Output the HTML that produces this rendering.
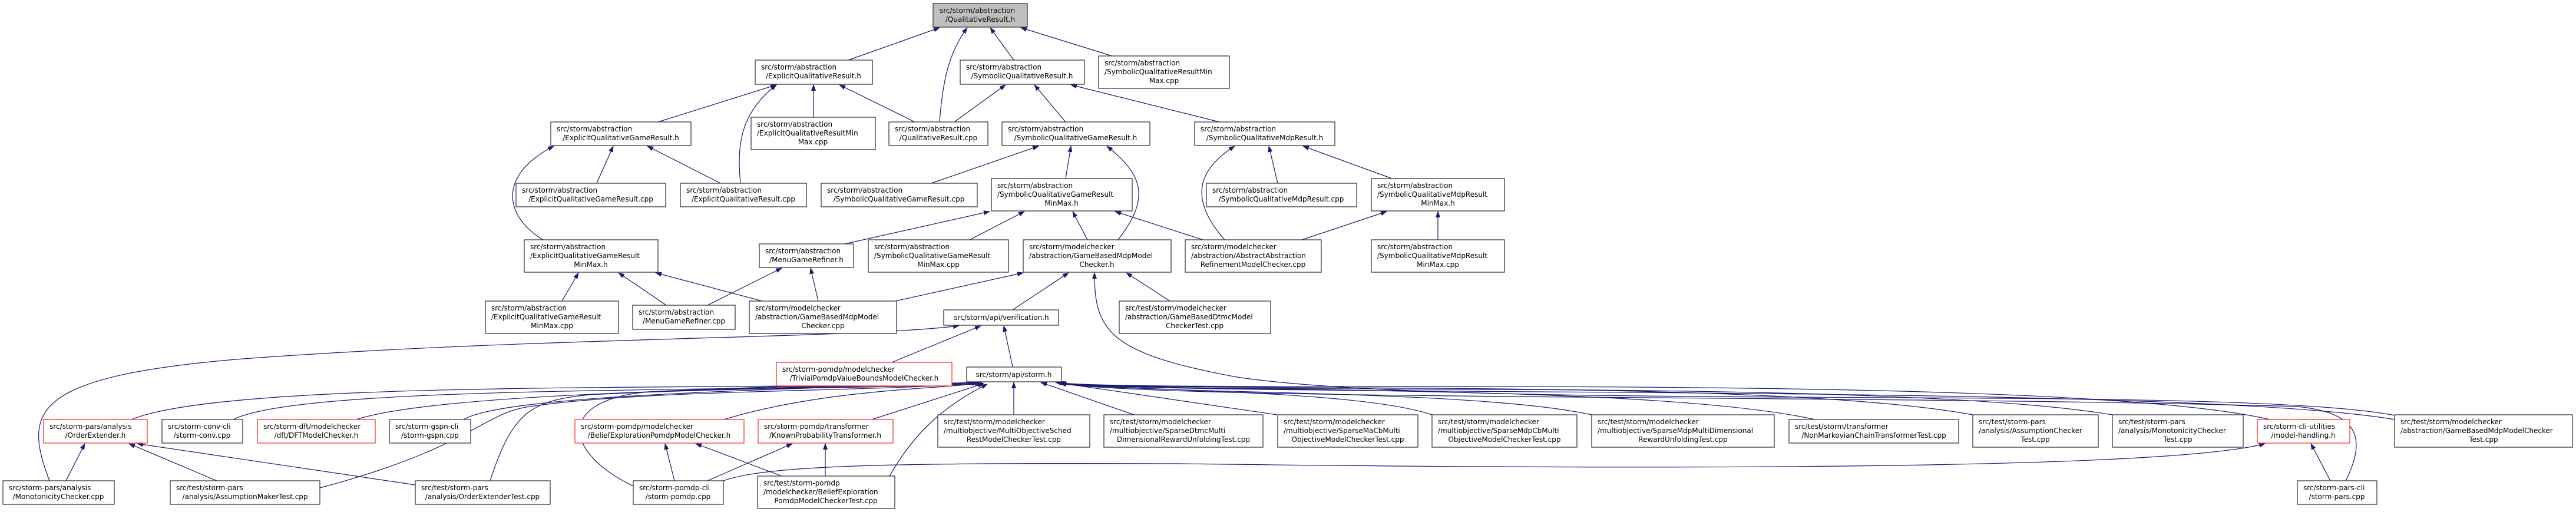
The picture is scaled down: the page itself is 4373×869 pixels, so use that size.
<!DOCTYPE html>
<html><head><meta charset="utf-8"><style>
html,body{margin:0;padding:0;background:#fff;}
svg{display:block;}
text{font-family:"DejaVu Sans","Liberation Sans",sans-serif;font-size:12px;fill:#000;}
.e{fill:none;stroke:#191970;stroke-width:1.2;}
.b{fill:#fff;stroke:#3a3a3a;stroke-width:1.3;}
.r{fill:#fff;stroke:#ff3030;stroke-width:1.3;}
.g{fill:#bfbfbf;stroke:#3a3a3a;stroke-width:1.3;}
</style></head><body>
<svg width="4373" height="869" viewBox="0 0 4373 869" xmlns="http://www.w3.org/2000/svg">
<defs><marker id="a" markerWidth="11" markerHeight="8" refX="10" refY="4" orient="auto" markerUnits="userSpaceOnUse"><path d="M0,0 L11,4 L0,8 z" fill="#191970"/></marker></defs>
<g class="edges">
<!-- into QualitativeResult.h -->
<path class="e" marker-end="url(#a)" d="M1440 102 L1595 47"/>
<path class="e" marker-end="url(#a)" d="M1595 207 C1600 140 1610 90 1642 47"/>
<path class="e" marker-end="url(#a)" d="M1721 102 L1681 47"/>
<path class="e" marker-end="url(#a)" d="M1888 95 L1733 47"/>
<!-- into ExplicitQualitativeResult.h -->
<path class="e" marker-end="url(#a)" d="M1117 207 L1318 144"/>
<path class="e" marker-end="url(#a)" d="M1257 311 C1250 240 1260 190 1318 144"/>
<path class="e" marker-end="url(#a)" d="M1381 199 L1381 144"/>
<path class="e" marker-end="url(#a)" d="M1553 207 L1425 144"/>
<!-- into SymbolicQualitativeResult.h -->
<path class="e" marker-end="url(#a)" d="M1620 207 L1707 144"/>
<path class="e" marker-end="url(#a)" d="M1809 207 L1756 144"/>
<path class="e" marker-end="url(#a)" d="M2070 207 L1818 144"/>
<!-- into ExplicitQualitativeGameResult.h -->
<path class="e" marker-end="url(#a)" d="M922 407 C860 370 840 300 940 248"/>
<path class="e" marker-end="url(#a)" d="M1013 311 L1041 248"/>
<path class="e" marker-end="url(#a)" d="M1223 311 L1099 248"/>
<!-- into SymbolicQualitativeGameResult.h -->
<path class="e" marker-end="url(#a)" d="M1581 311 L1763 248"/>
<path class="e" marker-end="url(#a)" d="M1809 303 L1818 248"/>
<path class="e" marker-end="url(#a)" d="M1898 407 C1950 340 1945 300 1879 248"/>
<!-- into SymbolicQualitativeMdpResult.h -->
<path class="e" marker-end="url(#a)" d="M2079 407 C2020 340 2030 290 2096 248"/>
<path class="e" marker-end="url(#a)" d="M2169 311 L2154 248"/>
<path class="e" marker-end="url(#a)" d="M2363 303 L2212 248"/>
<!-- into SymbolicQualitativeGameResultMinMax.h -->
<path class="e" marker-end="url(#a)" d="M1434 414 L1680 359"/>
<path class="e" marker-end="url(#a)" d="M1646 407 L1739 359"/>
<path class="e" marker-end="url(#a)" d="M1846 407 L1821 359"/>
<path class="e" marker-end="url(#a)" d="M2042 407 L1893 359"/>
<!-- into SymbolicQualitativeMdpResultMinMax.h -->
<path class="e" marker-end="url(#a)" d="M2210 407 L2354 359"/>
<path class="e" marker-end="url(#a)" d="M2441 407 L2441 359"/>
<!-- into ExplicitQualitativeGameResultMinMax.h -->
<path class="e" marker-end="url(#a)" d="M954 511 L982 463"/>
<path class="e" marker-end="url(#a)" d="M1131 518 L1050 463"/>
<path class="e" marker-end="url(#a)" d="M1294 511 L1113 463"/>
<!-- into MenuGameRefiner.h -->
<path class="e" marker-end="url(#a)" d="M1201 518 L1327 455"/>
<path class="e" marker-end="url(#a)" d="M1389 511 L1376 455"/>
<!-- into GameBasedMdpModelChecker.h -->
<path class="e" marker-end="url(#a)" d="M1520 511 L1737 463"/>
<path class="e" marker-end="url(#a)" d="M1719 526 L1814 463"/>
<path class="e" marker-end="url(#a)" d="M1986 511 L1912 463"/>
<path class="e" marker-end="url(#a)" d="M4070 706 C3800 650 2500 700 2100 640 C1880 600 1858 560 1858 463"/>
<!-- into verification.h -->
<path class="e" marker-end="url(#a)" d="M84 816 C40 700 50 640 400 610 C900 572 1450 575 1628 553"/>
<path class="e" marker-end="url(#a)" d="M1514 615 L1665 553"/>
<path class="e" marker-end="url(#a)" d="M1719 622 L1704 553"/>
<!-- into storm.h -->
<path class="e" marker-end="url(#a)" d="M223 712 C400 640 1300 665 1655 649"/>
<path class="e" marker-end="url(#a)" d="M396 712 C520 650 1300 668 1657 649"/>
<path class="e" marker-end="url(#a)" d="M605 712 C750 665 1300 660 1659 649"/>
<path class="e" marker-end="url(#a)" d="M787 712 C860 670 1300 662 1661 649"/>
<path class="e" marker-end="url(#a)" d="M543 828 C800 760 820 700 900 690 C1100 660 1500 665 1660 650"/>
<path class="e" marker-end="url(#a)" d="M832 816 C870 700 900 680 1000 670 C1300 655 1550 660 1665 650"/>
<path class="e" marker-end="url(#a)" d="M1075 825 C960 770 940 680 1100 665 C1400 650 1600 655 1668 650"/>
<path class="e" marker-end="url(#a)" d="M1229 712 C1400 660 1600 660 1668 650"/>
<path class="e" marker-end="url(#a)" d="M1480 712 L1670 651"/>
<path class="e" marker-end="url(#a)" d="M1510 808 C1560 720 1620 680 1676 652"/>
<path class="e" marker-end="url(#a)" d="M1721 704 L1721 649"/>
<path class="e" marker-end="url(#a)" d="M1925 704 L1767 649"/>
<path class="e" marker-end="url(#a)" d="M2168 704 L1792 649"/>
<path class="e" marker-end="url(#a)" d="M2431 704 C2300 660 1900 665 1796 649"/>
<path class="e" marker-end="url(#a)" d="M2702 704 C2500 660 1950 670 1798 650"/>
<path class="e" marker-end="url(#a)" d="M3081 712 C2800 650 2000 668 1800 650"/>
<path class="e" marker-end="url(#a)" d="M3349 704 C3000 640 2000 668 1800 650"/>
<path class="e" marker-end="url(#a)" d="M3586 704 C3200 640 2000 672 1800 651"/>
<path class="e" marker-end="url(#a)" d="M3853 712 C3500 630 2000 668 1800 650"/>
<path class="e" marker-end="url(#a)" d="M4065 712 C3700 650 2100 675 1800 651"/>
<path class="e" marker-end="url(#a)" d="M3982 816 C4020 740 4000 700 3900 690 C3200 670 2000 680 1800 651"/>
<!-- into OrderExtender.h -->
<path class="e" marker-end="url(#a)" d="M112 816 L144 753"/>
<path class="e" marker-end="url(#a)" d="M368 816 L219 753"/>
<path class="e" marker-end="url(#a)" d="M705 823 L233 753"/>
<!-- into BeliefExploration h -->
<path class="e" marker-end="url(#a)" d="M1145 816 L1129 753"/>
<path class="e" marker-end="url(#a)" d="M1327 808 L1181 753"/>
<!-- into KnownProbability -->
<path class="e" marker-end="url(#a)" d="M1201 816 L1345 753"/>
<path class="e" marker-end="url(#a)" d="M1401 808 L1401 753"/>
<!-- into model-handling.h -->
<path class="e" marker-end="url(#a)" d="M1228 816 C1300 790 1500 785 2000 787 C3000 800 3700 792 3845 753"/>
<path class="e" marker-end="url(#a)" d="M3956 816 L3923 753"/>
</g>
<g class="nodes">
<rect class="g" x="1584" y="6" width="160" height="40"/><text x="1595" y="22">src/storm/abstraction</text><text x="1664" y="37" text-anchor="middle">/QualitativeResult.h</text>

<rect class="b" x="1282" y="102" width="199" height="41"/><text x="1292" y="118">src/storm/abstraction</text><text x="1381" y="133" text-anchor="middle">/ExplicitQualitativeResult.h</text>
<rect class="b" x="1630" y="102" width="211" height="41"/><text x="1640" y="118">src/storm/abstraction</text><text x="1735" y="133" text-anchor="middle">/SymbolicQualitativeResult.h</text>
<rect class="b" x="1865" y="95" width="222" height="55"/><text x="1875" y="111">src/storm/abstraction</text><text x="1875" y="126">/SymbolicQualitativeResultMin</text><text x="1976" y="141" text-anchor="middle">Max.cpp</text>

<rect class="b" x="935" y="207" width="238" height="40"/><text x="945" y="223">src/storm/abstraction</text><text x="1054" y="238" text-anchor="middle">/ExplicitQualitativeGameResult.h</text>
<rect class="b" x="1275" y="199" width="211" height="55"/><text x="1285" y="215">src/storm/abstraction</text><text x="1285" y="230">/ExplicitQualitativeResultMin</text><text x="1380" y="245" text-anchor="middle">Max.cpp</text>
<rect class="b" x="1509" y="207" width="168" height="40"/><text x="1519" y="223">src/storm/abstraction</text><text x="1593" y="238" text-anchor="middle">/QualitativeResult.cpp</text>
<rect class="b" x="1701" y="207" width="251" height="40"/><text x="1711" y="223">src/storm/abstraction</text><text x="1826" y="238" text-anchor="middle">/SymbolicQualitativeGameResult.h</text>
<rect class="b" x="2028" y="207" width="238" height="40"/><text x="2038" y="223">src/storm/abstraction</text><text x="2147" y="238" text-anchor="middle">/SymbolicQualitativeMdpResult.h</text>

<rect class="b" x="876" y="311" width="254" height="40"/><text x="886" y="327">src/storm/abstraction</text><text x="1003" y="342" text-anchor="middle">/ExplicitQualitativeGameResult.cpp</text>
<rect class="b" x="1155" y="311" width="214" height="40"/><text x="1165" y="327">src/storm/abstraction</text><text x="1262" y="342" text-anchor="middle">/ExplicitQualitativeResult.cpp</text>
<rect class="b" x="1394" y="311" width="265" height="40"/><text x="1404" y="327">src/storm/abstraction</text><text x="1526" y="342" text-anchor="middle">/SymbolicQualitativeGameResult.cpp</text>
<rect class="b" x="1683" y="303" width="239" height="55"/><text x="1693" y="319">src/storm/abstraction</text><text x="1693" y="334">/SymbolicQualitativeGameResult</text><text x="1802" y="349" text-anchor="middle">MinMax.h</text>
<rect class="b" x="2048" y="311" width="255" height="40"/><text x="2058" y="327">src/storm/abstraction</text><text x="2175" y="342" text-anchor="middle">/SymbolicQualitativeMdpResult.cpp</text>
<rect class="b" x="2328" y="303" width="226" height="55"/><text x="2338" y="319">src/storm/abstraction</text><text x="2338" y="334">/SymbolicQualitativeMdpResult</text><text x="2441" y="349" text-anchor="middle">MinMax.h</text>

<rect class="b" x="890" y="407" width="227" height="55"/><text x="900" y="423">src/storm/abstraction</text><text x="900" y="438">/ExplicitQualitativeGameResult</text><text x="1003" y="453" text-anchor="middle">MinMax.h</text>
<rect class="b" x="1289" y="414" width="160" height="40"/><text x="1299" y="430">src/storm/abstraction</text><text x="1369" y="445" text-anchor="middle">/MenuGameRefiner.h</text>
<rect class="b" x="1474" y="407" width="238" height="55"/><text x="1484" y="423">src/storm/abstraction</text><text x="1484" y="438">/SymbolicQualitativeGameResult</text><text x="1593" y="453" text-anchor="middle">MinMax.cpp</text>
<rect class="b" x="1737" y="407" width="251" height="55"/><text x="1747" y="423">src/storm/modelchecker</text><text x="1747" y="438">/abstraction/GameBasedMdpModel</text><text x="1862" y="453" text-anchor="middle">Checker.h</text>
<rect class="b" x="2012" y="407" width="231" height="55"/><text x="2022" y="423">src/storm/modelchecker</text><text x="2022" y="438">/abstraction/AbstractAbstraction</text><text x="2127" y="453" text-anchor="middle">RefinementModelChecker.cpp</text>
<rect class="b" x="2328" y="407" width="226" height="55"/><text x="2338" y="423">src/storm/abstraction</text><text x="2338" y="438">/SymbolicQualitativeMdpResult</text><text x="2441" y="453" text-anchor="middle">MinMax.cpp</text>

<rect class="b" x="824" y="511" width="226" height="55"/><text x="834" y="527">src/storm/abstraction</text><text x="834" y="542">/ExplicitQualitativeGameResult</text><text x="937" y="557" text-anchor="middle">MinMax.cpp</text>
<rect class="b" x="1074" y="518" width="174" height="41"/><text x="1084" y="534">src/storm/abstraction</text><text x="1161" y="549" text-anchor="middle">/MenuGameRefiner.cpp</text>
<rect class="b" x="1272" y="511" width="250" height="55"/><text x="1282" y="527">src/storm/modelchecker</text><text x="1282" y="542">/abstraction/GameBasedMdpModel</text><text x="1397" y="557" text-anchor="middle">Checker.cpp</text>
<rect class="b" x="1602" y="526" width="195" height="26"/><text x="1700" y="543" text-anchor="middle">src/storm/api/verification.h</text>
<rect class="b" x="1900" y="511" width="257" height="55"/><text x="1910" y="527">src/test/storm/modelchecker</text><text x="1910" y="542">/abstraction/GameBasedDtmcModel</text><text x="2028" y="557" text-anchor="middle">CheckerTest.cpp</text>

<rect class="r" x="1318" y="615" width="298" height="40"/><text x="1328" y="631">src/storm-pomdp/modelchecker</text><text x="1467" y="646" text-anchor="middle">/TrivialPomdpValueBoundsModelChecker.h</text>
<rect class="b" x="1641" y="623" width="161" height="25"/><text x="1721" y="640" text-anchor="middle">src/storm/api/storm.h</text>

<rect class="r" x="74" y="712" width="176" height="40"/><text x="84" y="728">src/storm-pars/analysis</text><text x="162" y="743" text-anchor="middle">/OrderExtender.h</text>
<rect class="b" x="275" y="712" width="137" height="40"/><text x="285" y="728">src/storm-conv-cli</text><text x="343" y="743" text-anchor="middle">/storm-conv.cpp</text>
<rect class="r" x="437" y="712" width="200" height="40"/><text x="447" y="728">src/storm-dft/modelchecker</text><text x="537" y="743" text-anchor="middle">/dft/DFTModelChecker.h</text>
<rect class="b" x="661" y="712" width="138" height="40"/><text x="671" y="728">src/storm-gspn-cli</text><text x="730" y="743" text-anchor="middle">/storm-gspn.cpp</text>
<rect class="r" x="976" y="712" width="287" height="40"/><text x="986" y="728">src/storm-pomdp/modelchecker</text><text x="1119" y="743" text-anchor="middle">/BeliefExplorationPomdpModelChecker.h</text>
<rect class="r" x="1287" y="712" width="229" height="40"/><text x="1297" y="728">src/storm-pomdp/transformer</text><text x="1401" y="743" text-anchor="middle">/KnownProbabilityTransformer.h</text>

<rect class="b" x="1592" y="704" width="258" height="55"/><text x="1602" y="720">src/test/storm/modelchecker</text><text x="1602" y="735">/multiobjective/MultiObjectiveSched</text><text x="1721" y="750" text-anchor="middle">RestModelCheckerTest.cpp</text>
<rect class="b" x="1874" y="704" width="270" height="55"/><text x="1884" y="720">src/test/storm/modelchecker</text><text x="1884" y="735">/multiobjective/SparseDtmcMulti</text><text x="2009" y="750" text-anchor="middle">DimensionalRewardUnfoldingTest.cpp</text>
<rect class="b" x="2169" y="704" width="238" height="55"/><text x="2179" y="720">src/test/storm/modelchecker</text><text x="2179" y="735">/multiobjective/SparseMaCbMulti</text><text x="2288" y="750" text-anchor="middle">ObjectiveModelCheckerTest.cpp</text>
<rect class="b" x="2431" y="704" width="246" height="55"/><text x="2441" y="720">src/test/storm/modelchecker</text><text x="2441" y="735">/multiobjective/SparseMdpCbMulti</text><text x="2554" y="750" text-anchor="middle">ObjectiveModelCheckerTest.cpp</text>
<rect class="b" x="2702" y="704" width="310" height="55"/><text x="2712" y="720">src/test/storm/modelchecker</text><text x="2712" y="735">/multiobjective/SparseMdpMultiDimensional</text><text x="2857" y="750" text-anchor="middle">RewardUnfoldingTest.cpp</text>
<rect class="b" x="3037" y="712" width="288" height="40"/><text x="3047" y="728">src/test/storm/transformer</text><text x="3181" y="743" text-anchor="middle">/NonMarkovianChainTransformerTest.cpp</text>
<rect class="b" x="3349" y="704" width="213" height="55"/><text x="3359" y="720">src/test/storm-pars</text><text x="3359" y="735">/analysis/AssumptionChecker</text><text x="3455" y="750" text-anchor="middle">Test.cpp</text>
<rect class="b" x="3586" y="704" width="222" height="55"/><text x="3596" y="720">src/test/storm-pars</text><text x="3596" y="735">/analysis/MonotonicityChecker</text><text x="3697" y="750" text-anchor="middle">Test.cpp</text>
<rect class="r" x="3832" y="712" width="157" height="40"/><text x="3842" y="728">src/storm-cli-utilities</text><text x="3910" y="743" text-anchor="middle">/model-handling.h</text>
<rect class="b" x="4065" y="704" width="302" height="55"/><text x="4075" y="720">src/test/storm/modelchecker</text><text x="4075" y="735">/abstraction/GameBasedMdpModelChecker</text><text x="4216" y="750" text-anchor="middle">Test.cpp</text>

<rect class="b" x="5" y="816" width="189" height="40"/><text x="15" y="832">src/storm-pars/analysis</text><text x="99" y="847" text-anchor="middle">/MonotonicityChecker.cpp</text>
<rect class="b" x="289" y="816" width="254" height="40"/><text x="299" y="832">src/test/storm-pars</text><text x="416" y="847" text-anchor="middle">/analysis/AssumptionMakerTest.cpp</text>
<rect class="b" x="705" y="816" width="229" height="40"/><text x="715" y="832">src/test/storm-pars</text><text x="819" y="847" text-anchor="middle">/analysis/OrderExtenderTest.cpp</text>
<rect class="b" x="1075" y="816" width="153" height="40"/><text x="1085" y="832">src/storm-pomdp-cli</text><text x="1151" y="847" text-anchor="middle">/storm-pomdp.cpp</text>
<rect class="b" x="1286" y="808" width="233" height="55"/><text x="1296" y="824">src/test/storm-pomdp</text><text x="1296" y="839">/modelchecker/BeliefExploration</text><text x="1402" y="854" text-anchor="middle">PomdpModelCheckerTest.cpp</text>
<rect class="b" x="3900" y="816" width="135" height="40"/><text x="3910" y="832">src/storm-pars-cli</text><text x="3967" y="847" text-anchor="middle">/storm-pars.cpp</text>
</g>
</svg>
</body></html>
